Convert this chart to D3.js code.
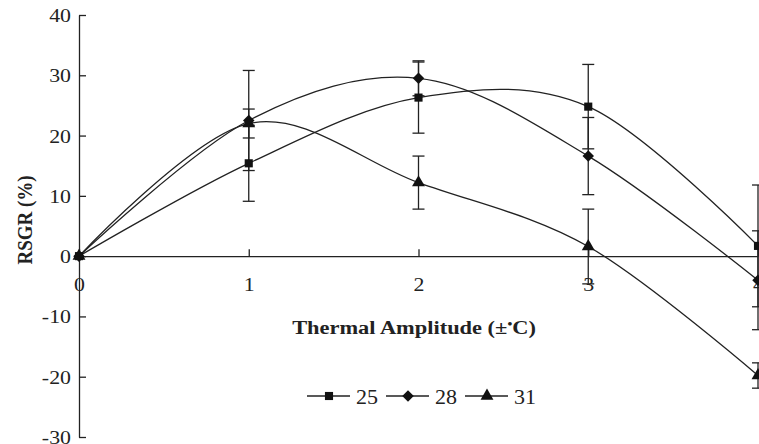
<!DOCTYPE html>
<html>
<head>
<meta charset="utf-8">
<script src="https://cdn.jsdelivr.net/npm/d3@7"></script>
<style>
  body { margin: 0; background: #fff; }
  svg { display: block; font-family: "Liberation Serif", "Times New Roman", serif; }
</style>
</head>
<body>
<div id="chart"></div>
<script>
// thermal amplitude categories
const amplitudes = [0, 1, 2, 3, 4];
const seriesNames = ["25", "28", "31"];
// RSGR (%) means and error bar half-widths
const rsgr25 = [0, 15.4, 26.3, 24.8, 1.7];
const err25 = [0, 6.3, 5.9, 7.0, 10.1];
const rsgr28 = [0, 22.5, 29.5, 16.6, -4.0];
const err28 = [0, 8.3, 2.9, 6.4, 8.2];
const rsgr31 = [0, 22.0, 12.2, 1.6, -19.8];
const err31 = [0, 2.4, 4.4, 6.2, 2.1];
const yTicks = [-30, -20, -10, 0, 10, 20, 30, 40];

const width = 759, height = 444;
const margin = { top: 15, right: 1, bottom: 7, left: 79 };
const sx = 1.15; // the source figure's text is a little wide

// diamond = square turned 45 degrees
const series = [
  { name: seriesNames[0], values: rsgr25, errs: err25, symbol: d3.symbolSquare, size: 66, rot: 0 },
  { name: seriesNames[1], values: rsgr28, errs: err28, symbol: d3.symbolSquare, size: 66, rot: 45 },
  { name: seriesNames[2], values: rsgr31, errs: err31, symbol: d3.symbolTriangle, size: 72, rot: 0 }
];

let svg = d3.select("#chart")
  .append("svg")
  .attr("width", width)
  .attr("height", height);

let x = d3.scaleLinear()
  .domain([0, 4])
  .range([margin.left, width - margin.right]);

let y = d3.scaleLinear()
  .domain([-30, 40])
  .range([height - margin.bottom, margin.top]);

// plain hyphen for negatives, as in the figure
const fmt = d => String(d);

// y axis, ticks pointing inward
let yAxis = d3.axisLeft(y)
  .tickValues(yTicks)
  .tickFormat(fmt)
  .tickSizeInner(-7)
  .tickSizeOuter(0);

svg.append("g")
  .attr("transform", "translate(" + margin.left + ",0)")
  .call(yAxis)
  .call(g => g.select(".domain").attr("stroke", "#222").attr("stroke-width", 1.3))
  .call(g => g.selectAll(".tick line").attr("stroke", "#222").attr("stroke-width", 1.3))
  .call(g => g.selectAll(".tick text")
    .attr("x", 0)
    .attr("dy", "0.34em")
    .attr("transform", "translate(-8,0) scale(" + sx + ",1)")
    .attr("fill", "#222")
    .style("font-size", "19px")
    .style("font-family", "Liberation Serif, serif"));

// x axis along zero, ticks pointing up
let xAxis = d3.axisBottom(x)
  .tickValues(amplitudes)
  .tickFormat(d3.format("d"))
  .tickSizeInner(-7)
  .tickSizeOuter(0)
  .tickPadding(21);

svg.append("g")
  .attr("transform", "translate(0," + y(0) + ")")
  .call(xAxis)
  .call(g => g.select(".domain").attr("stroke", "#222").attr("stroke-width", 1.3))
  .call(g => g.selectAll(".tick line").attr("stroke", "#222").attr("stroke-width", 1.3))
  .call(g => g.selectAll(".tick text")
    .attr("transform", "scale(" + sx + ",1)")
    .attr("fill", "#222")
    .style("font-size", "19px")
    .style("font-family", "Liberation Serif, serif"));

// axis titles
svg.append("text")
  .attr("transform", "translate(32,220) rotate(-90) scale(1," + sx + ")")
  .attr("text-anchor", "middle")
  .attr("font-size", "19px")
  .attr("font-weight", "bold")
  .attr("fill", "#222")
  .text("RSGR (%)");

let xTitle = svg.append("text")
  .attr("transform", "translate(414,334) scale(" + sx + ",1)")
  .attr("text-anchor", "middle")
  .attr("font-size", "19.5px")
  .attr("font-weight", "bold")
  .attr("fill", "#222");
xTitle.append("tspan").text("Thermal Amplitude (\u00b1");
xTitle.append("tspan").attr("dy", -6).attr("font-size", "12px").text("\u2022");
xTitle.append("tspan").attr("dy", 6).text("C)");

// smoothed lines (Excel style)
let line = d3.line()
  .x((d, i) => x(amplitudes[i]))
  .y(d => y(d))
  .curve(d3.curveCardinal.tension(0));

series.forEach(s => {
  svg.append("path")
    .datum(s.values)
    .attr("fill", "none")
    .attr("stroke", "#222")
    .attr("stroke-width", 1.3)
    .attr("d", line);
});

// error bars
series.forEach(s => {
  let g = svg.append("g").attr("stroke", "#222").attr("stroke-width", 1.3);
  s.values.forEach((v, i) => {
    let e = s.errs[i];
    if (!e) return;
    let cx = x(amplitudes[i]);
    g.append("line").attr("x1", cx).attr("x2", cx).attr("y1", y(v - e)).attr("y2", y(v + e));
    g.append("line").attr("x1", cx - 6).attr("x2", cx + 6).attr("y1", y(v + e)).attr("y2", y(v + e));
    g.append("line").attr("x1", cx - 6).attr("x2", cx + 6).attr("y1", y(v - e)).attr("y2", y(v - e));
  });
});

// markers
series.forEach(s => {
  svg.append("g")
    .selectAll("path")
    .data(s.values)
    .enter()
    .append("path")
    .attr("transform", (d, i) => "translate(" + x(amplitudes[i]) + "," + y(d) + ") rotate(" + s.rot + ")")
    .attr("d", d3.symbol().type(s.symbol).size(s.size))
    .attr("fill", "#111");
});

// legend
let legendX = [307, 386, 465];
series.forEach((s, i) => {
  let lg = svg.append("g").attr("transform", "translate(" + legendX[i] + ",396)");
  lg.append("line").attr("x1", 0).attr("x2", 43).attr("stroke", "#222").attr("stroke-width", 1.3);
  lg.append("path")
    .attr("transform", "translate(22,0) rotate(" + s.rot + ")")
    .attr("d", d3.symbol().type(s.symbol).size(s.size))
    .attr("fill", "#111");
  lg.append("text")
    .attr("transform", "translate(49,7.5) scale(1.1,1)")
    .attr("font-size", "20px")
    .attr("fill", "#222")
    .text(s.name);
});
</script>
</body>
</html>
